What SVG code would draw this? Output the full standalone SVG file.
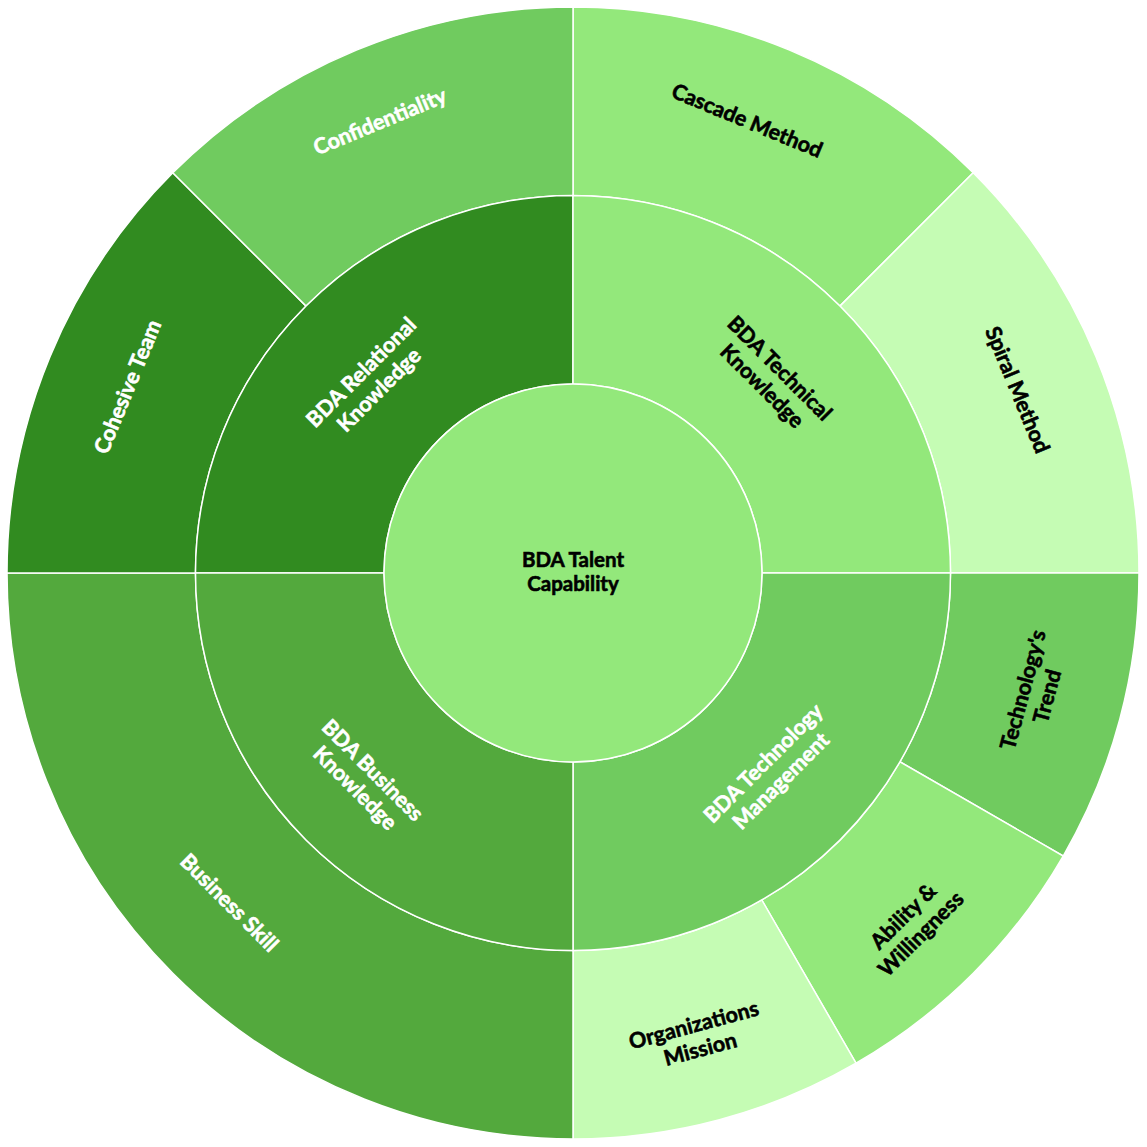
<svg xmlns="http://www.w3.org/2000/svg" width="1147" height="1147" viewBox="0 0 1147 1147">
<style>
.seg{stroke:#ffffff;stroke-width:1.5}
.c1{fill:#318b20}.c2{fill:#53a93d}.c3{fill:#70cb5f}.c4{fill:#93e87b}.c5{fill:#c5fcb4}
text{font-family:Lato,"Liberation Sans",sans-serif;font-weight:bold;font-size:21.5px;text-anchor:middle;stroke-width:0.6}
.w{fill:#ffffff;stroke:#ffffff}.k{fill:#000000;stroke:#000000}
</style>
<rect width="1147" height="1147" fill="#ffffff"/>
<g id="outer-ring">
<g id="cascade-method"><path class="seg c4" d="M573,7 A566,566 0 0 1 973.2,172.8 L839.9,306.1 A377.5,377.5 0 0 0 573,195.5 Z"/>
<g transform="translate(747,121) rotate(22.5)"><text class="k" y="7">Cascade Method</text></g></g>
<g id="spiral-method"><path class="seg c5" d="M973.2,172.8 A566,566 0 0 1 1139,573 L950.5,573 A377.5,377.5 0 0 0 839.9,306.1 Z"/>
<g transform="translate(1017,390) rotate(67.5)"><text class="k" y="7">Spiral Method</text></g></g>
<g id="technologys-trend"><path class="seg c3" d="M1139,573 A566,566 0 0 1 1063.2,856 L899.9,761.75 A377.5,377.5 0 0 0 950.5,573 Z"/>
<g transform="translate(1035,693) rotate(-75)"><text class="k" y="-5">Technology's</text><text class="k" y="20">Trend</text></g></g>
<g id="ability-willingness"><path class="seg c4" d="M1063.2,856 A566,566 0 0 1 856,1063.2 L761.75,899.9 A377.5,377.5 0 0 0 899.9,761.75 Z"/>
<g transform="translate(912,925) rotate(-45)"><text class="k" y="-5">Ability &amp;</text><text class="k" y="20">Willingness</text></g></g>
<g id="organizations-mission"><path class="seg c5" d="M856,1063.2 A566,566 0 0 1 573,1139 L573,950.5 A377.5,377.5 0 0 0 761.75,899.9 Z"/>
<g transform="translate(697,1037) rotate(-15)"><text class="k" y="-5">Organizations</text><text class="k" y="20">Mission</text></g></g>
<g id="business-skill"><path class="seg c2" d="M573,1139 A566,566 0 0 1 7,573 L195.5,573 A377.5,377.5 0 0 0 573,950.5 Z"/>
<g transform="translate(229,903) rotate(45)"><text class="w" y="7">Business Skill</text></g></g>
<g id="cohesive-team"><path class="seg c1" d="M7,573 A566,566 0 0 1 172.8,172.8 L306.1,306.1 A377.5,377.5 0 0 0 195.5,573 Z"/>
<g transform="translate(128,387) rotate(-67.5)"><text class="w" y="7">Cohesive Team</text></g></g>
<g id="confidentiality"><path class="seg c3" d="M172.8,172.8 A566,566 0 0 1 573,7 L573,195.5 A377.5,377.5 0 0 0 306.1,306.1 Z"/>
<g transform="translate(380,122) rotate(-22.5)"><text class="w" y="7">Confidentiality</text></g></g>
</g>
<g id="middle-ring">
<g id="bda-relational-knowledge"><path class="seg c1" d="M195.5,573 A377.5,377.5 0 0 1 573,195.5 L573,384 A189,189 0 0 0 384,573 Z"/>
<g transform="translate(370,381) rotate(-45)"><text class="w" y="-5">BDA Relational</text><text class="w" y="20">Knowledge</text></g></g>
<g id="bda-technical-knowledge"><path class="seg c4" d="M573,195.5 A377.5,377.5 0 0 1 950.5,573 L762,573 A189,189 0 0 0 573,384 Z"/>
<g transform="translate(771,377) rotate(45)"><text class="k" y="-5">BDA Technical</text><text class="k" y="20">Knowledge</text></g></g>
<g id="bda-technology-management"><path class="seg c3" d="M950.5,573 A377.5,377.5 0 0 1 573,950.5 L573,762 A189,189 0 0 0 762,573 Z"/>
<g transform="translate(772,772) rotate(-45)"><text class="w" y="-5">BDA Technology</text><text class="w" y="20">Management</text></g></g>
<g id="bda-business-knowledge"><path class="seg c2" d="M573,950.5 A377.5,377.5 0 0 1 195.5,573 L384,573 A189,189 0 0 0 573,762 Z"/>
<g transform="translate(364,779) rotate(45)"><text class="w" y="-5">BDA Business</text><text class="w" y="20">Knowledge</text></g></g>
</g>
<g id="bda-talent-capability">
<circle class="seg c4" cx="573" cy="573" r="189"/>
<text class="k" x="573" y="567" style="font-size:20.5px">BDA Talent</text>
<text class="k" x="573" y="591" style="font-size:20.5px">Capability</text>
</g>
<g id="connectors"/>
</svg>
